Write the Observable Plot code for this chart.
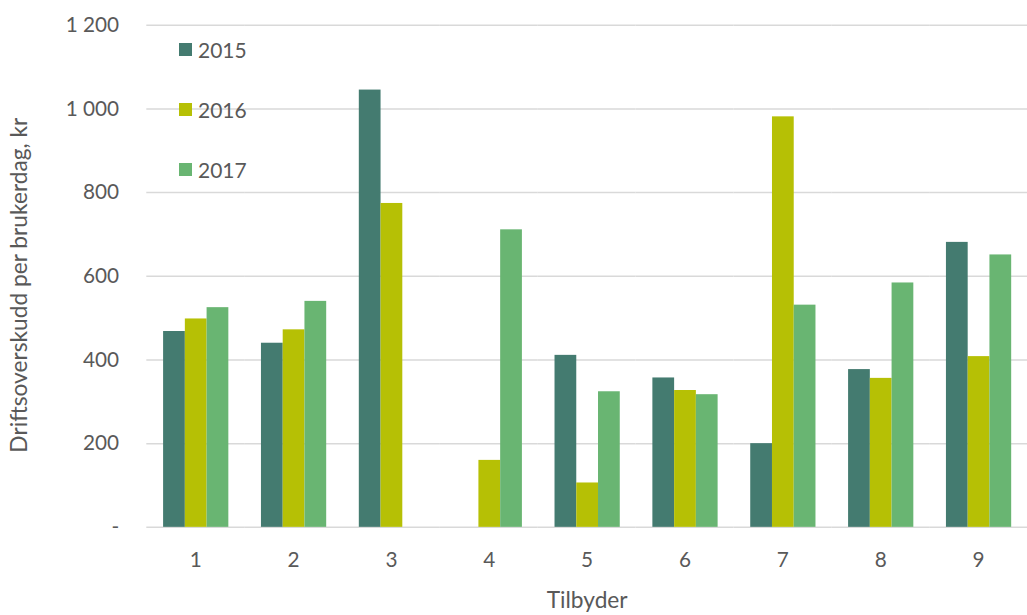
<!DOCTYPE html>
<html>
<head>
<meta charset="utf-8">
<script src="https://cdn.jsdelivr.net/npm/d3@7"></script>
<script src="https://cdn.jsdelivr.net/npm/@observablehq/plot@0.6"></script>
<style>
  html, body { margin: 0; padding: 0; overflow: hidden; background: #fff; }
  #wrap { position: relative; width: 1027px; height: 615px; overflow: hidden; }
  #legend { position: absolute; left: 179px; top: 43px; font-family: Lato, "Open Sans", sans-serif; font-size: 21px; color: #595959; }
  .item { display: flex; align-items: center; height: 13px; margin-bottom: 47px; }
  .sw { width: 13px; height: 13px; margin-right: 6px; }
</style>
</head>
<body>
<div id="wrap"><div id="legend"></div></div>
<script>
const tilbyder = ["1", "2", "3", "4", "5", "6", "7", "8", "9"];
const years = ["2015", "2016", "2017"];
const v2015 = [468, 440, 1045, null, 411, 357, 200, 377, 681];
const v2016 = [498, 472, 774, 160, 106, 327, 981, 356, 408];
const v2017 = [525, 540, null, 711, 324, 317, 531, 584, 651];
const colors = ["#447B70", "#B6C005", "#69B572"];
const yTicks = [0, 200, 400, 600, 800, 1000, 1200];
const yLabel = "Driftsoverskudd per brukerdag, kr";
const xLabel = "Tilbyder";

const series = [v2015, v2016, v2017];
const data = tilbyder.flatMap((t, i) =>
  years.map((y, j) => ({ t, year: y, v: series[j][i] }))
).filter(d => d.v != null);

const fmt = d => d === 0 ? "-" : d3.format(",")(d).replace(/,/g, " ");

const chart = Plot.plot({
  width: 1039,
  height: 615,
  marginLeft: 148,
  marginRight: 0,
  marginTop: 25,
  marginBottom: 82,
  style: { fontFamily: "Lato, 'Open Sans', sans-serif", fontSize: "21px", color: "#595959", background: "transparent", overflow: "visible" },
  facet: { data, x: "t" },
  fx: { domain: tilbyder, padding: 0, tickSize: 0, tickPadding: 25, label: xLabel, labelAnchor: "center", labelOffset: 82, labelArrow: "none" },
  x: { domain: years, paddingInner: 0, paddingOuter: 0.75, axis: null },
  y: { domain: [0, 1200], ticks: yTicks, tickFormat: fmt, tickSize: 0, tickPadding: 28, label: yLabel, labelAnchor: "center", labelOffset: 138, labelArrow: "none" },
  color: { domain: years, range: colors },
  marks: [
    Plot.ruleY(yTicks, { stroke: "#d9d9d9", strokeWidth: 1.5 }),
    Plot.barY(data, { x: "year", y: "v", fill: "year", inset: 0 })
  ]
});

// enlarge axis titles and strip any arrows
d3.select(chart).selectAll("text").each(function () {
  const txt = this.textContent;
  if (txt.includes(yLabel) || txt.includes(xLabel)) {
    const isY = txt.includes(yLabel);
    d3.select(this).selectAll("tspan").remove();
    this.textContent = isY ? yLabel : xLabel;
    this.setAttribute("font-size", "23px");
    this.style.fontSize = "23px";
    if (isY) this.setAttribute("dx", "-9");
  }
});

document.getElementById("wrap").prepend(chart);

const legend = d3.select("#legend");
years.forEach((y, i) => {
  const it = legend.append("div").attr("class", "item");
  it.append("div").attr("class", "sw").style("background", colors[i]);
  it.append("span").text(y);
});
</script>
</body>
</html>
